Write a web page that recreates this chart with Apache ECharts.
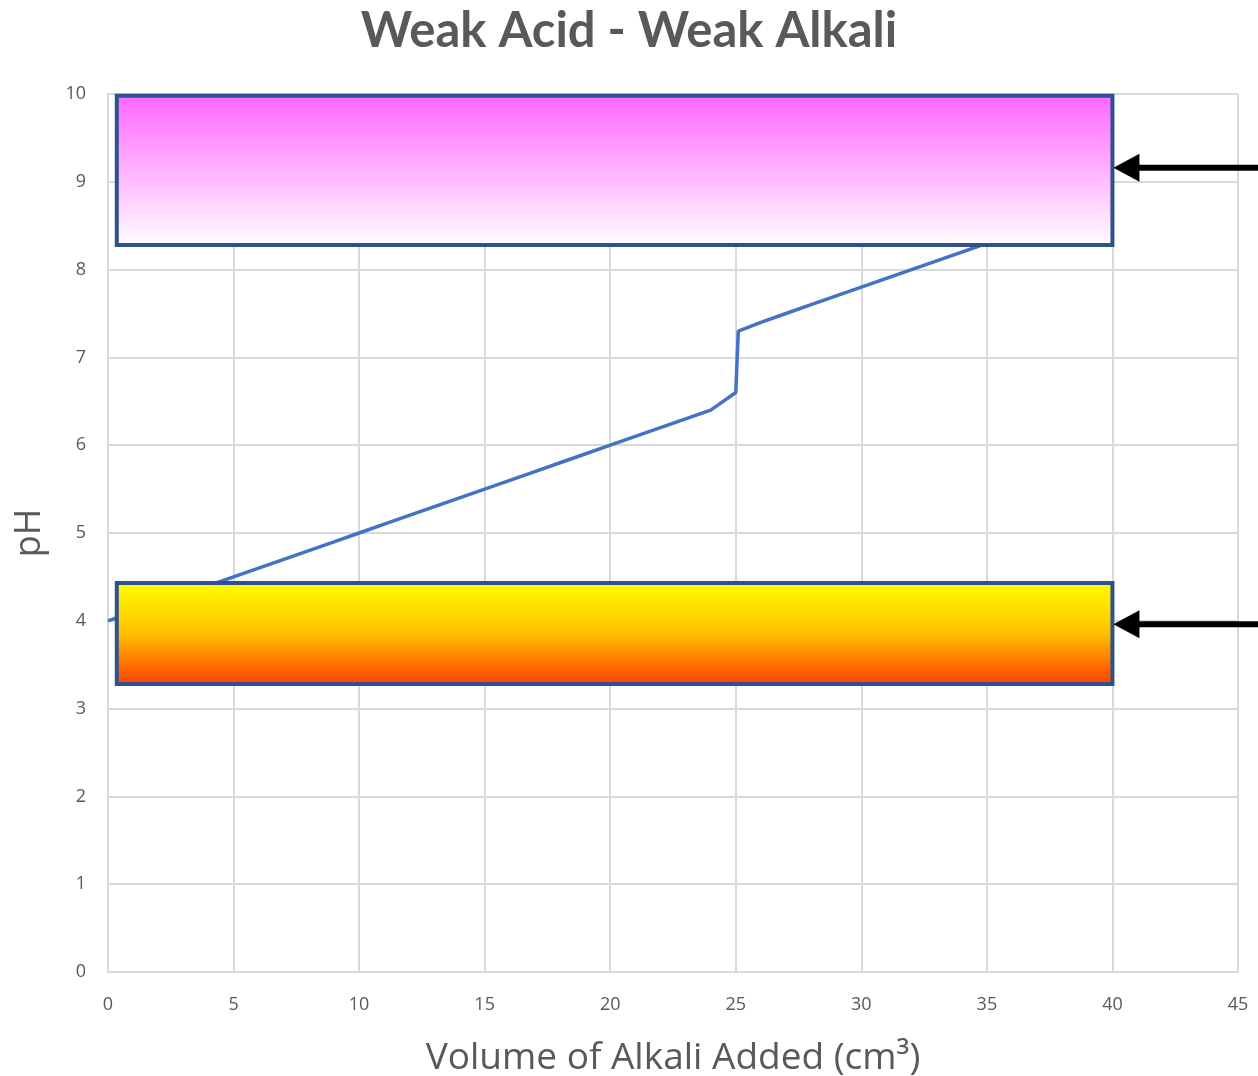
<!DOCTYPE html>
<html>
<head>
<meta charset="utf-8">
<script src="https://cdn.jsdelivr.net/npm/echarts@6/dist/echarts.min.js"></script>
<style>html,body{margin:0;padding:0;background:#fff}#c{width:1258px;height:1076px}</style>
</head>
<body>
<div id="c"></div>
<script>
// Titration data (volume cm3, pH)
var volume = [0,1,2,3,4,5,6,7,8,9,10,11,12,13,14,15,16,17,18,19,20,21,22,23,24,25,25.1,26,27,28,29,30,31,32,33,34,35,36,37,38,39,40];
var pH =     [4.0,4.1,4.2,4.3,4.4,4.5,4.6,4.7,4.8,4.9,5.0,5.1,5.2,5.3,5.4,5.5,5.6,5.7,5.8,5.9,6.0,6.1,6.2,6.3,6.4,6.6,7.3,7.4,7.5,7.6,7.7,7.8,7.9,8.0,8.1,8.2,8.3,8.4,8.5,8.6,8.7,8.8];
// Indicator colour bands: [xStart, xEnd, yLow, yHigh]
var acidBand = [0.35, 40, 3.28, 4.43];
var alkaliBand = [0.35, 40, 8.28, 9.98];
// Arrows: [xFrom, xTo, y]
var arrowAlkali = [45.8, 40, 9.16];
var arrowAcid = [45.8, 40, 3.96];
var xTicks = [0,5,10,15,20,25,30,35,40,45];
var yTicks = [0,1,2,3,4,5,6,7,8,9,10];

var lineData = volume.map(function(v,i){return [v,pH[i]];});

var chart = echarts.init(document.getElementById('c'), null, {renderer:'canvas'});
var gradAcid = new echarts.graphic.LinearGradient(0,0,0,1,[{offset:0,color:'#FFFF00'},{offset:0.5,color:'#FFC000'},{offset:1,color:'#FF3C00'}]);
var gradAlk = new echarts.graphic.LinearGradient(0,0,0,1,[{offset:0,color:'#FF66FF'},{offset:1,color:'#FFFFFF'}]);

chart.setOption({
  animation:false,
  title:{text:'Weak Acid - Weak Alkali',left:'center',top:2,
    textStyle:{fontFamily:'Lato',fontWeight:'bold',fontSize:49,color:'#595959'}},
  grid:{left:108,right:20,top:94,bottom:104,containLabel:false,outerBoundsMode:'none'},
  xAxis:{type:'value',min:0,max:45,interval:5,
    name:'Volume of Alkali Added (cm³)',nameLocation:'middle',nameGap:68,
    nameTextStyle:{fontFamily:'Open Sans',fontSize:37,color:'#595959'},
    axisLine:{lineStyle:{color:'#D9D9D9',width:2}},axisTick:{show:false},
    axisLabel:{fontFamily:'Open Sans',fontSize:18,color:'#595959',margin:24},
    splitLine:{lineStyle:{color:'#D9D9D9',width:2}}},
  yAxis:{type:'value',min:0,max:10,interval:1,
    name:'pH',nameLocation:'middle',nameGap:60,
    nameTextStyle:{fontFamily:'Open Sans',fontSize:36,color:'#595959'},
    axisLine:{show:true,lineStyle:{color:'#D9D9D9',width:2}},axisTick:{show:false},
    axisLabel:{fontFamily:'Open Sans',fontSize:18,color:'#595959',margin:22},
    splitLine:{lineStyle:{color:'#D9D9D9',width:2}}},
  series:[
    {type:'line',data:lineData,showSymbol:false,symbol:'none',z:2,
     lineStyle:{color:'#4472C4',width:3.5}},
    {type:'custom',z:5,clip:false,
     data:[acidBand.concat([0]), alkaliBand.concat([1])],
     renderItem:function(params,api){
       var p1 = api.coord([api.value(0), api.value(3)]);
       var p2 = api.coord([api.value(1), api.value(2)]);
       return {type:'rect',shape:{x:p1[0],y:p1[1],width:p2[0]-p1[0],height:p2[1]-p1[1]},
         style:{fill: api.value(4)===0 ? gradAcid : gradAlk, stroke:'#2F528F', lineWidth:4}};
     }},
    {type:'custom',z:6,clip:false,
     data:[arrowAlkali, arrowAcid],
     renderItem:function(params,api){
       var a = api.coord([api.value(0), api.value(2)]);
       var b = api.coord([api.value(1), api.value(2)]);
       var tip = b[0]+1, y = b[1];
       return {type:'group',children:[
         {type:'line',shape:{x1:a[0]+10,y1:y,x2:tip+20,y2:y},style:{stroke:'#000',lineWidth:6}},
         {type:'polygon',shape:{points:[[tip,y],[tip+26,y-14],[tip+26,y+14]]},style:{fill:'#000'}}
       ]};
     }}
  ]
});
</script>
</body>
</html>
